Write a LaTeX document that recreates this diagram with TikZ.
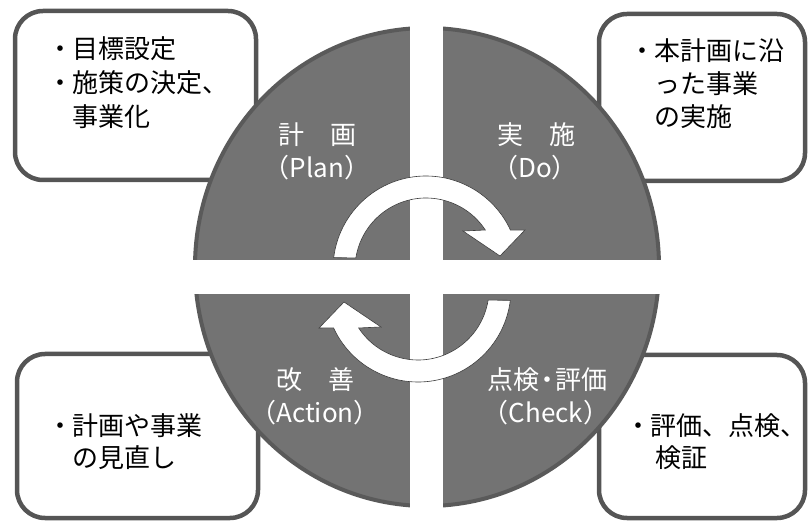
\documentclass[tikz,border=0pt]{standalone}
\usepackage{fontspec}
\setmainfont{Noto Sans CJK JP}
\definecolor{boxline}{HTML}{555555}
\definecolor{discfill}{HTML}{737373}
\definecolor{discline}{HTML}{5A5A5A}
\definecolor{arrowline}{HTML}{3C3C3C}
\tikzset{
  boxframe/.style={draw=boxline, line width=4.5pt, fill=white, rounded corners=28pt},
  boxtext/.style={anchor=base west, inner sep=0pt, font=\fontsize{26}{33}\selectfont, text=black},
  disclabel/.style={anchor=center, inner sep=0pt, font=\fontsize{26}{33}\selectfont, text=white},
  cyclearrow/.style={fill=white, draw=arrowline, line width=0.6pt, line join=miter},
}
\begin{document}
\begin{tikzpicture}[x=1pt,y=1pt]
\useasboundingbox (0,0) rectangle (810,522);
% boxes
\draw[boxframe] (15,342) rectangle (256,511);
\draw[boxframe] (599,341) rectangle (805,508);
\draw[boxframe] (17,4) rectangle (258,168);
\draw[boxframe] (599,4) rectangle (805,167);
% disc
\draw[fill=discfill, draw=discline, line width=4pt] (427,255) ellipse [x radius=232, y radius=239];
% white cross
\fill[white] (410,0) rectangle (443,522);
\fill[white] (175,228) rectangle (680,262);
% upper arrow
\path[cyclearrow] (333.69,264.33) arc[start angle=173, end angle=24.8, radius=93]
  -- (525,292) -- (500,266) -- (463,291) -- (485.34,291.98)
  arc[start angle=33.3, end angle=171, radius=71] -- cycle;
% lower arrow
\begin{scope}[rotate around={180:(422,243)}]
\path[cyclearrow] (333.69,264.33) arc[start angle=173, end angle=24.8, radius=93]
  -- (525,292) -- (500,266) -- (463,291) -- (485.34,291.98)
  arc[start angle=33.3, end angle=171, radius=71] -- cycle;
\end{scope}
% disc labels
\node[disclabel] (plan) at (317,387) {計　画};
\node[disclabel] (planen) at (317,354) {（Plan）};
\node[disclabel] (do) at (536,387) {実　施};
\node[disclabel] (doen) at (535,354) {（Do）};
\node[disclabel] (act) at (315,142) {改　善};
\node[disclabel] (acten) at (315,109) {（Action）};
\node[disclabel] (check) at (547,142) {点検\kern-5pt・\kern-5pt評価};
\node[disclabel] (checken) at (546,109) {（Check）};
% box texts
\node[boxtext] (tl1) at (72,463) {\llap{・\kern-1pt}目標設定};
\node[boxtext] (tl2) at (72,429) {\llap{・\kern-1pt}施策の決定、};
\node[boxtext] (tl3) at (72,395) {事業化};
\node[boxtext] (tr1) at (654,461) {\llap{・\kern-1pt}本計画に沿};
\node[boxtext] (tr2) at (654,428) {った事業};
\node[boxtext] (tr3) at (654,395) {の実施};
\node[boxtext] (bl1) at (72,87) {\llap{・\kern-1pt}計画や事業};
\node[boxtext] (bl2) at (72,55) {の見直し};
\node[boxtext] (br1) at (650,87) {\llap{・\kern-1pt}評価、点検、};
\node[boxtext] (br2) at (655,55) {検証};
\end{tikzpicture}
\end{document}
